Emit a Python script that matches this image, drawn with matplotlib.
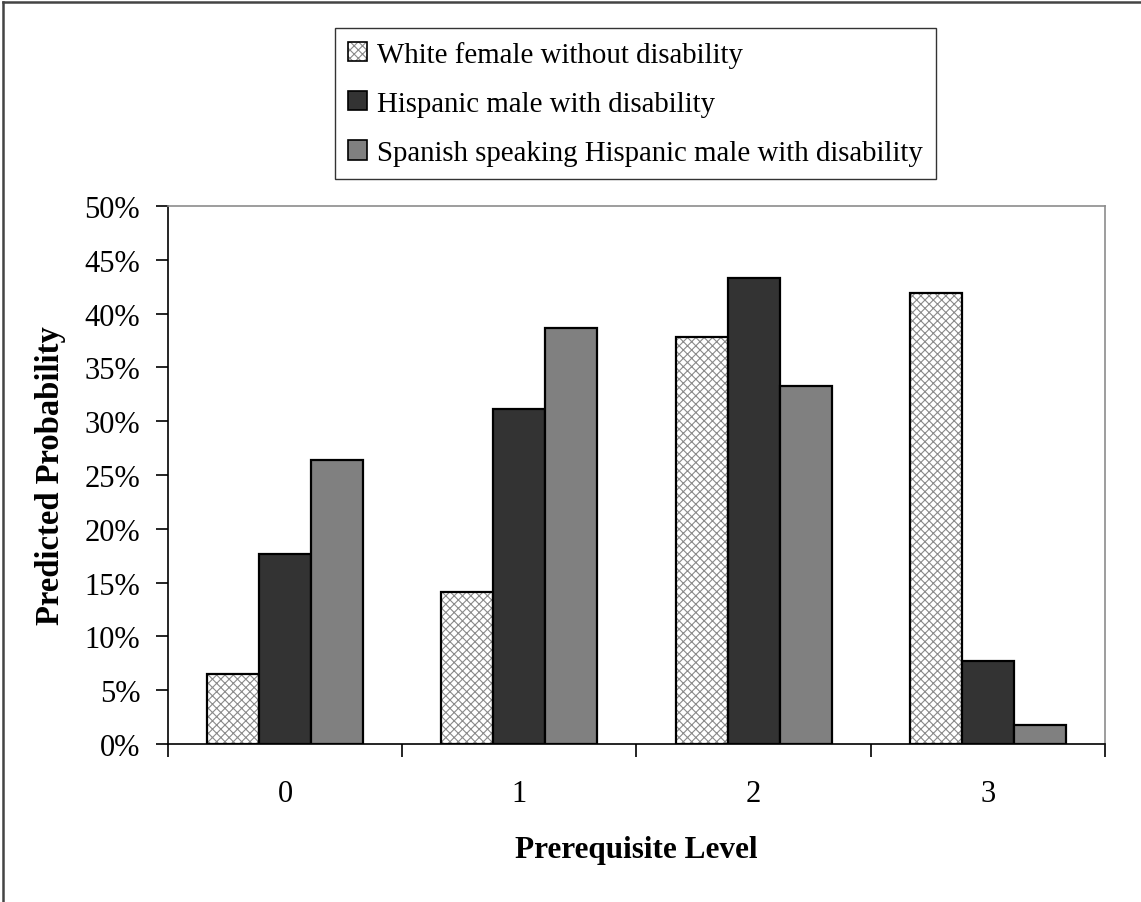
import numpy as np
import matplotlib
matplotlib.use("Agg")
import matplotlib.pyplot as plt
from matplotlib.patches import Patch
from matplotlib.lines import Line2D
from matplotlib.ticker import MultipleLocator, PercentFormatter

plt.rcParams['font.family'] = ['Liberation Serif', 'DejaVu Serif']
plt.rcParams['hatch.linewidth'] = 0.8

# predicted probability (%) by prerequisite level
levels = ["0", "1", "2", "3"]
white_female = [6.5, 14.1, 37.8, 41.9]
hispanic_male = [17.7, 31.1, 43.3, 7.7]
spanish_hispanic = [26.4, 38.7, 33.3, 1.8]
series_names = ["White female without disability",
                "Hispanic male with disability",
                "Spanish speaking Hispanic male with disability"]

fig = plt.figure(figsize=(11.41, 9.03), dpi=100)
ax = fig.add_axes([0.1472, 0.175, 0.8212, 0.5958])

x = np.arange(len(levels))
w = 0.222
hatch_col = "#8a8a8a"

# hatched bars: draw hatch first, black outline on top
ax.bar(x - w, white_female, w, color="white", edgecolor=hatch_col,
       hatch="xxxx", linewidth=0, zorder=2)
ax.bar(x - w, white_female, w, facecolor="none", edgecolor="black",
       linewidth=1.6, zorder=3)
ax.bar(x, hispanic_male, w, color="#333333", edgecolor="black",
       linewidth=1.6, zorder=3)
ax.bar(x + w, spanish_hispanic, w, color="#808080", edgecolor="black",
       linewidth=1.6, zorder=3)

ax.set_xlim(-0.5, len(levels) - 0.5)
ax.set_ylim(0, 50)
ax.yaxis.set_major_locator(MultipleLocator(5))
ax.yaxis.set_major_formatter(PercentFormatter(decimals=0))

# category labels centred, ticks at group boundaries
ax.set_xticks(np.arange(-0.5, len(levels), 1.0))
ax.set_xticklabels([])
ax.set_xticks(x, minor=True)
ax.set_xticklabels(levels, minor=True)
ax.tick_params(axis='x', which='minor', length=0, pad=25, labelsize=22)
ax.tick_params(axis='x', which='major', length=9, width=1.2, direction='out')
ax.tick_params(axis='y', length=9, width=1.2, direction='out', pad=11, labelsize=22)

for s in ['left', 'bottom']:
    ax.spines[s].set_color("black")
    ax.spines[s].set_linewidth(1.2)
for s in ['top', 'right']:
    ax.spines[s].set_color("#8c8c8c")
    ax.spines[s].set_linewidth(1.2)

ax.set_ylabel("Predicted Probability", fontsize=23.5, fontweight='bold', labelpad=13)
ax.set_xlabel("Prerequisite Level", fontsize=22.5, fontweight='bold', labelpad=20)

handles = [
    (Patch(facecolor="white", edgecolor=hatch_col, hatch="xxxx", linewidth=0),
     Patch(facecolor="none", edgecolor="black", linewidth=1.2)),
    Patch(facecolor="#333333", edgecolor="black", linewidth=1.2),
    Patch(facecolor="#808080", edgecolor="black", linewidth=1.2),
]
leg = fig.legend(handles, series_names, loc='upper left',
                 bbox_to_anchor=(0.2936, 0.968), fontsize=20.8,
                 frameon=True, fancybox=False, edgecolor="black",
                 handlelength=0.65, handleheight=0.65, handletextpad=0.35,
                 labelspacing=0.8, borderpad=0.45, borderaxespad=0)
leg.get_frame().set_linewidth(1.0)

# border lines along the top and left of the chart
fig.add_artist(Line2D([3 / 1141, 1], [1 - 3 / 903, 1 - 3 / 903],
                      transform=fig.transFigure, color="#444444", linewidth=1.8))
fig.add_artist(Line2D([3 / 1141, 3 / 1141], [0, 1 - 3 / 903],
                      transform=fig.transFigure, color="#444444", linewidth=1.8))

fig.savefig("out.png", dpi=100)
